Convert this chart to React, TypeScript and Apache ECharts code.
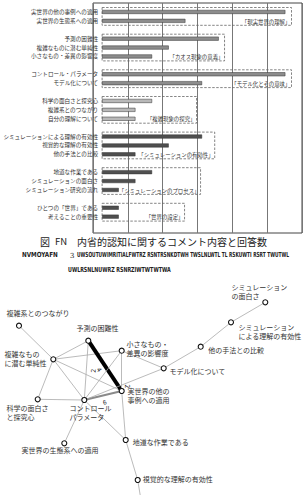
import React, { useEffect, useRef } from 'react';
import * as echarts from 'echarts';

// ---------- Bar chart data ----------
const categories = [
  '実世界の他の事例への適用', '実世界の生態系への適用',
  '予測の困難性', '複雑なものに潜む単純性', '小さなもの・差異の影響度',
  'コントロール・パラメータ', 'モデル化について',
  '科学の面白さと探究心', '複雑系とのつながり', '自分の理解について',
  'シミュレーションによる理解の有効性', '視覚的な理解の有効性', '他の手法との比較',
  '地道な作業である', 'シミュレーションの面白さ', 'シミュレーション研究の流れ',
  'ひとつの「世界」である', '考えることの重要性',
];
const counts = [11, 5, 7, 4, 3, 11, 6, 3, 2, 2, 6, 4, 2, 3, 2, 1, 1, 1];
const groupLabels = [
  '「現実世界の理解」', '「カオス現象の意義」', '「モデル化とその意味」', '「複雑現象の探究」',
  '「シミュレーションの有効性」', '「シミュレーションのプロセス」', '「世界の設定」',
];
const groupSizes = [2, 3, 2, 3, 3, 3, 2];
const axisMax = 12;
const axisInterval = 2;

// ---------- Network data ----------
const nodeNames = [
  'シミュレーションの面白さ', 'シミュレーションによる理解の有効性', '他の手法との比較', 'モデル化について',
  '複雑系とのつながり', '予測の困難性', '小さなもの・差異の影響度', '複雑なものに潜む単純性',
  'コントロール・パラメータ', '実世界の他の事例への適用', '科学の面白さと探究心', '実世界の生態系への適用',
  '地道な作業である', '視覚的な理解の有効性', '図外',
];
const nodeTexts = [
  'シミュレーション\nの面白さ', 'シミュレーション\nによる理解の有効性', '他の手法との比較', 'モデル化について',
  '複雑系とのつながり', '予測の困難性', '小さなもの・\n差異の影響度', '複雑なもの\nに潜む単純性',
  'コントロール\nパラメータ', '実世界の他の\n事例への適用', '科学の面白さ\nと探究心', '実世界の生態系への適用',
  '地道な作業である', '視覚的な理解の有効性', '',
];
const nodeX = [265.3, 231, 200.7, 163.7, 19, 88.3, 121.7, 53.3, 84.3, 121.7, 37.7, 64.3, 125.7, 137.7, 143];
const nodeY = [302.3, 322.3, 346.7, 368.3, 325.7, 340.7, 350.7, 359.3, 400, 391, 399.3, 443.3, 440, 480, 512];
const linkSource = [
  '複雑系とのつながり', '複雑なものに潜む単純性', '複雑なものに潜む単純性', '複雑なものに潜む単純性',
  '複雑なものに潜む単純性', '複雑なものに潜む単純性', '予測の困難性', '予測の困難性',
  '小さなもの・差異の影響度', '小さなもの・差異の影響度', '小さなもの・差異の影響度', 'コントロール・パラメータ',
  'コントロール・パラメータ', 'コントロール・パラメータ', 'コントロール・パラメータ', 'コントロール・パラメータ',
  '実世界の他の事例への適用', '地道な作業である', '視覚的な理解の有効性', 'モデル化について',
  '他の手法との比較', 'シミュレーションによる理解の有効性',
];
const linkTarget = [
  '複雑なものに潜む単純性', '予測の困難性', '小さなもの・差異の影響度', '科学の面白さと探究心',
  'コントロール・パラメータ', '実世界の他の事例への適用', 'コントロール・パラメータ', '実世界の他の事例への適用',
  '実世界の他の事例への適用', 'コントロール・パラメータ', 'モデル化について', '実世界の他の事例への適用',
  'モデル化について', '科学の面白さと探究心', '実世界の生態系への適用', '地道な作業である',
  '地道な作業である', '視覚的な理解の有効性', '図外', '他の手法との比較',
  'シミュレーションによる理解の有効性', 'シミュレーションの面白さ',
];
const linkWeights = [
  null, null, null, null, null, null, 2, 4,
  2, null, null, 6, null, null, null, null,
  null, null, null, null, null, null,
];

// ---------- styles / layout ----------
const FONT = '"Noto Sans CJK JP", "Noto Sans", sans-serif';
const NARROW = '"DejaVu Sans Condensed", "Liberation Sans Narrow", "DejaVu Sans", sans-serif';
const groupColors = ['#8c8c8c', '#8c8c8c', '#8c8c8c', '#b8b8b8', '#4f4f4f', '#4f4f4f', '#4f4f4f'];
const boxRight = [11.37, 7.35, 11.37, 5.67, 6.76, 5.91, 4.95];
// label offsets [dx, dy] relative to symbol box top-left
const labelOffsets: number[][] = [
  [-30.8, -16.3], [10.5, 3.7], [10.5, 2.3], [8.8, 1.7],
  [-9.5, -13.7], [-8.8, -13.7], [7.8, -7.7], [-45.8, -6.3],
  [-11.8, 7], [8.8, -1], [-28.2, 7.7], [-39.8, 5.7],
  [10.1, 1], [8.1, -2], [0, 0],
];
// where each weighted edge's number sits along its line
const edgeLabelPlace: Record<number, string> = {
  6: 'insideMiddleBottom',
  7: 'insideMiddleBottom',
  8: 'insideEndTop',
  11: 'insideMiddleBottom',
};
// the graph view spans the page (0,0)-(304,512) so node coordinates map 1:1 to pixels
const VIEW_W = 304;
const VIEW_H = 512;

function buildOption() {
  const rows: string[] = [];
  const barData: any[] = [];
  const areas: any[] = [];
  let k = 0;
  groupSizes.forEach((size, g) => {
    const start = rows.length;
    for (let i = 0; i < size; i++) {
      rows.push(categories[k]);
      barData.push({ value: counts[k], itemStyle: { color: groupColors[g] } });
      k++;
    }
    const end = rows.length - 1;
    areas.push([
      { name: groupLabels[g], yAxis: start, xAxis: 0 },
      { yAxis: end, xAxis: boxRight[g] },
    ]);
    if (g < groupSizes.length - 1) {
      rows.push('');
      barData.push(null);
    }
  });

  const nodes: any[] = nodeNames.map((name, i) => ({
    name,
    x: nodeX[i],
    y: nodeY[i],
    label: nodeTexts[i]
      ? { show: true, formatter: nodeTexts[i], position: labelOffsets[i] }
      : { show: false },
  }));
  // invisible frame anchors so the view is the page itself
  nodes.push({ name: 'anchor-a', x: 0, y: 0, symbolSize: 0, label: { show: false }, itemStyle: { opacity: 0 } });
  nodes.push({ name: 'anchor-b', x: VIEW_W, y: VIEW_H, symbolSize: 0, label: { show: false }, itemStyle: { opacity: 0 } });

  const links = linkSource.map((s, i) => {
    const w = linkWeights[i];
    const link: any = { source: s, target: linkTarget[i] };
    if (w === 4) link.lineStyle = { color: '#000', width: 4 };
    else if (w === 6) link.lineStyle = { color: '#8a8a8a', width: 1.8 };
    if (w != null) {
      link.label = { show: true, formatter: String(w), position: edgeLabelPlace[i] || 'middle', distance: 3 };
    }
    return link;
  });

  return {
    animation: false,
    backgroundColor: '#fff',
    grid: [
      { left: 93, right: 2, top: 7.5, height: 213.6 },
      { left: 93, right: 2, top: 3, height: 230, show: true, borderColor: '#444', borderWidth: 1, backgroundColor: 'transparent' },
    ],
    xAxis: [
      { gridIndex: 0, type: 'value', min: 0, max: axisMax, interval: axisInterval, show: false },
      {
        gridIndex: 1, type: 'value', min: 0, max: axisMax, interval: axisInterval,
        axisLabel: { show: false }, axisLine: { show: false }, axisTick: { show: false },
        splitLine: { show: true, lineStyle: { color: '#777', width: 1 } },
      },
    ],
    yAxis: [
      {
        gridIndex: 0, type: 'category', inverse: true, data: rows,
        axisLine: { show: false }, axisTick: { show: false }, splitLine: { show: false },
        axisLabel: { interval: 0, fontSize: 5.6, margin: 4, color: '#333', fontFamily: FONT },
      },
      { gridIndex: 1, type: 'value', min: 0, max: 1, show: false },
    ],
    series: [
      {
        type: 'bar', xAxisIndex: 0, yAxisIndex: 0, data: barData, barWidth: 4,
        itemStyle: { borderColor: '#333', borderWidth: 0.5 },
        silent: true,
        markArea: {
          silent: true,
          itemStyle: { color: 'rgba(0,0,0,0)', borderColor: '#666', borderWidth: 0.8, borderType: [2.5, 1.5] },
          label: { show: true, position: 'insideBottomRight', distance: 1.5, fontSize: 5.4, color: '#333', fontFamily: FONT },
          data: areas,
        },
      },
      {
        type: 'graph', layout: 'none', roam: false,
        left: 0, top: 0, width: VIEW_W, height: VIEW_H,
        symbol: 'circle', symbolSize: 5, silent: true,
        itemStyle: { color: '#fff', borderColor: '#111', borderWidth: 1.1 },
        label: { show: true, fontSize: 7, lineHeight: 9, color: '#333', fontFamily: FONT, align: 'left', verticalAlign: 'top' },
        lineStyle: { color: '#aaa', width: 0.8, opacity: 1, curveness: 0 },
        edgeLabel: { show: false, fontSize: 6.5, color: '#222', fontFamily: FONT },
        emphasis: { disabled: true },
        data: nodes,
        links,
        z: 3,
      },
    ],
    graphic: [
      { type: 'text', x: 40, y: 236, style: { text: '図', fontSize: 10, fill: '#222', fontFamily: FONT } },
      { type: 'text', x: 55, y: 236, style: { text: 'FN', fontSize: 9.5, fill: '#222', fontFamily: FONT } },
      { type: 'text', x: 77, y: 236, style: { text: '内省的認知に関するコメント内容と回答数', fontSize: 10, fill: '#222', fontFamily: FONT } },
      { type: 'text', x: 22, y: 251, scaleX: 0.9, style: { text: 'NVMOYAFN', fontSize: 7, fontWeight: 'bold', fill: '#222', fontFamily: NARROW } },
      { type: 'text', x: 70, y: 252, style: { text: '3', fontSize: 7, fill: '#222', fontFamily: '"DejaVu Serif", serif' } },
      { type: 'text', x: 77, y: 251, scaleX: 0.69, style: { text: 'UWSOUTUWIMRITIALFWTRZ RSNTRSNKDTWH TWSLNLWTL TL RSKUWTI RSRT TWUTWL', fontSize: 7, fontWeight: 'bold', fill: '#222', fontFamily: NARROW } },
      { type: 'text', x: 68, y: 266, scaleX: 0.76, style: { text: 'UWLRSNLNUWRZ RSNRZIWTWTWTWA', fontSize: 7, fontWeight: 'bold', fill: '#222', fontFamily: NARROW } },
    ],
  };
}

export default function App() {
  const ref = useRef<HTMLDivElement>(null);
  useEffect(() => {
    if (!ref.current) return;
    const chart = echarts.init(ref.current, null, { renderer: 'svg' });
    chart.setOption(buildOption() as any);
    return () => chart.dispose();
  }, []);
  return (
    <div
      ref={ref}
      style={{ position: 'absolute', left: 0, top: 0, width: 304, height: 495, background: '#fff' }}
    />
  );
}
